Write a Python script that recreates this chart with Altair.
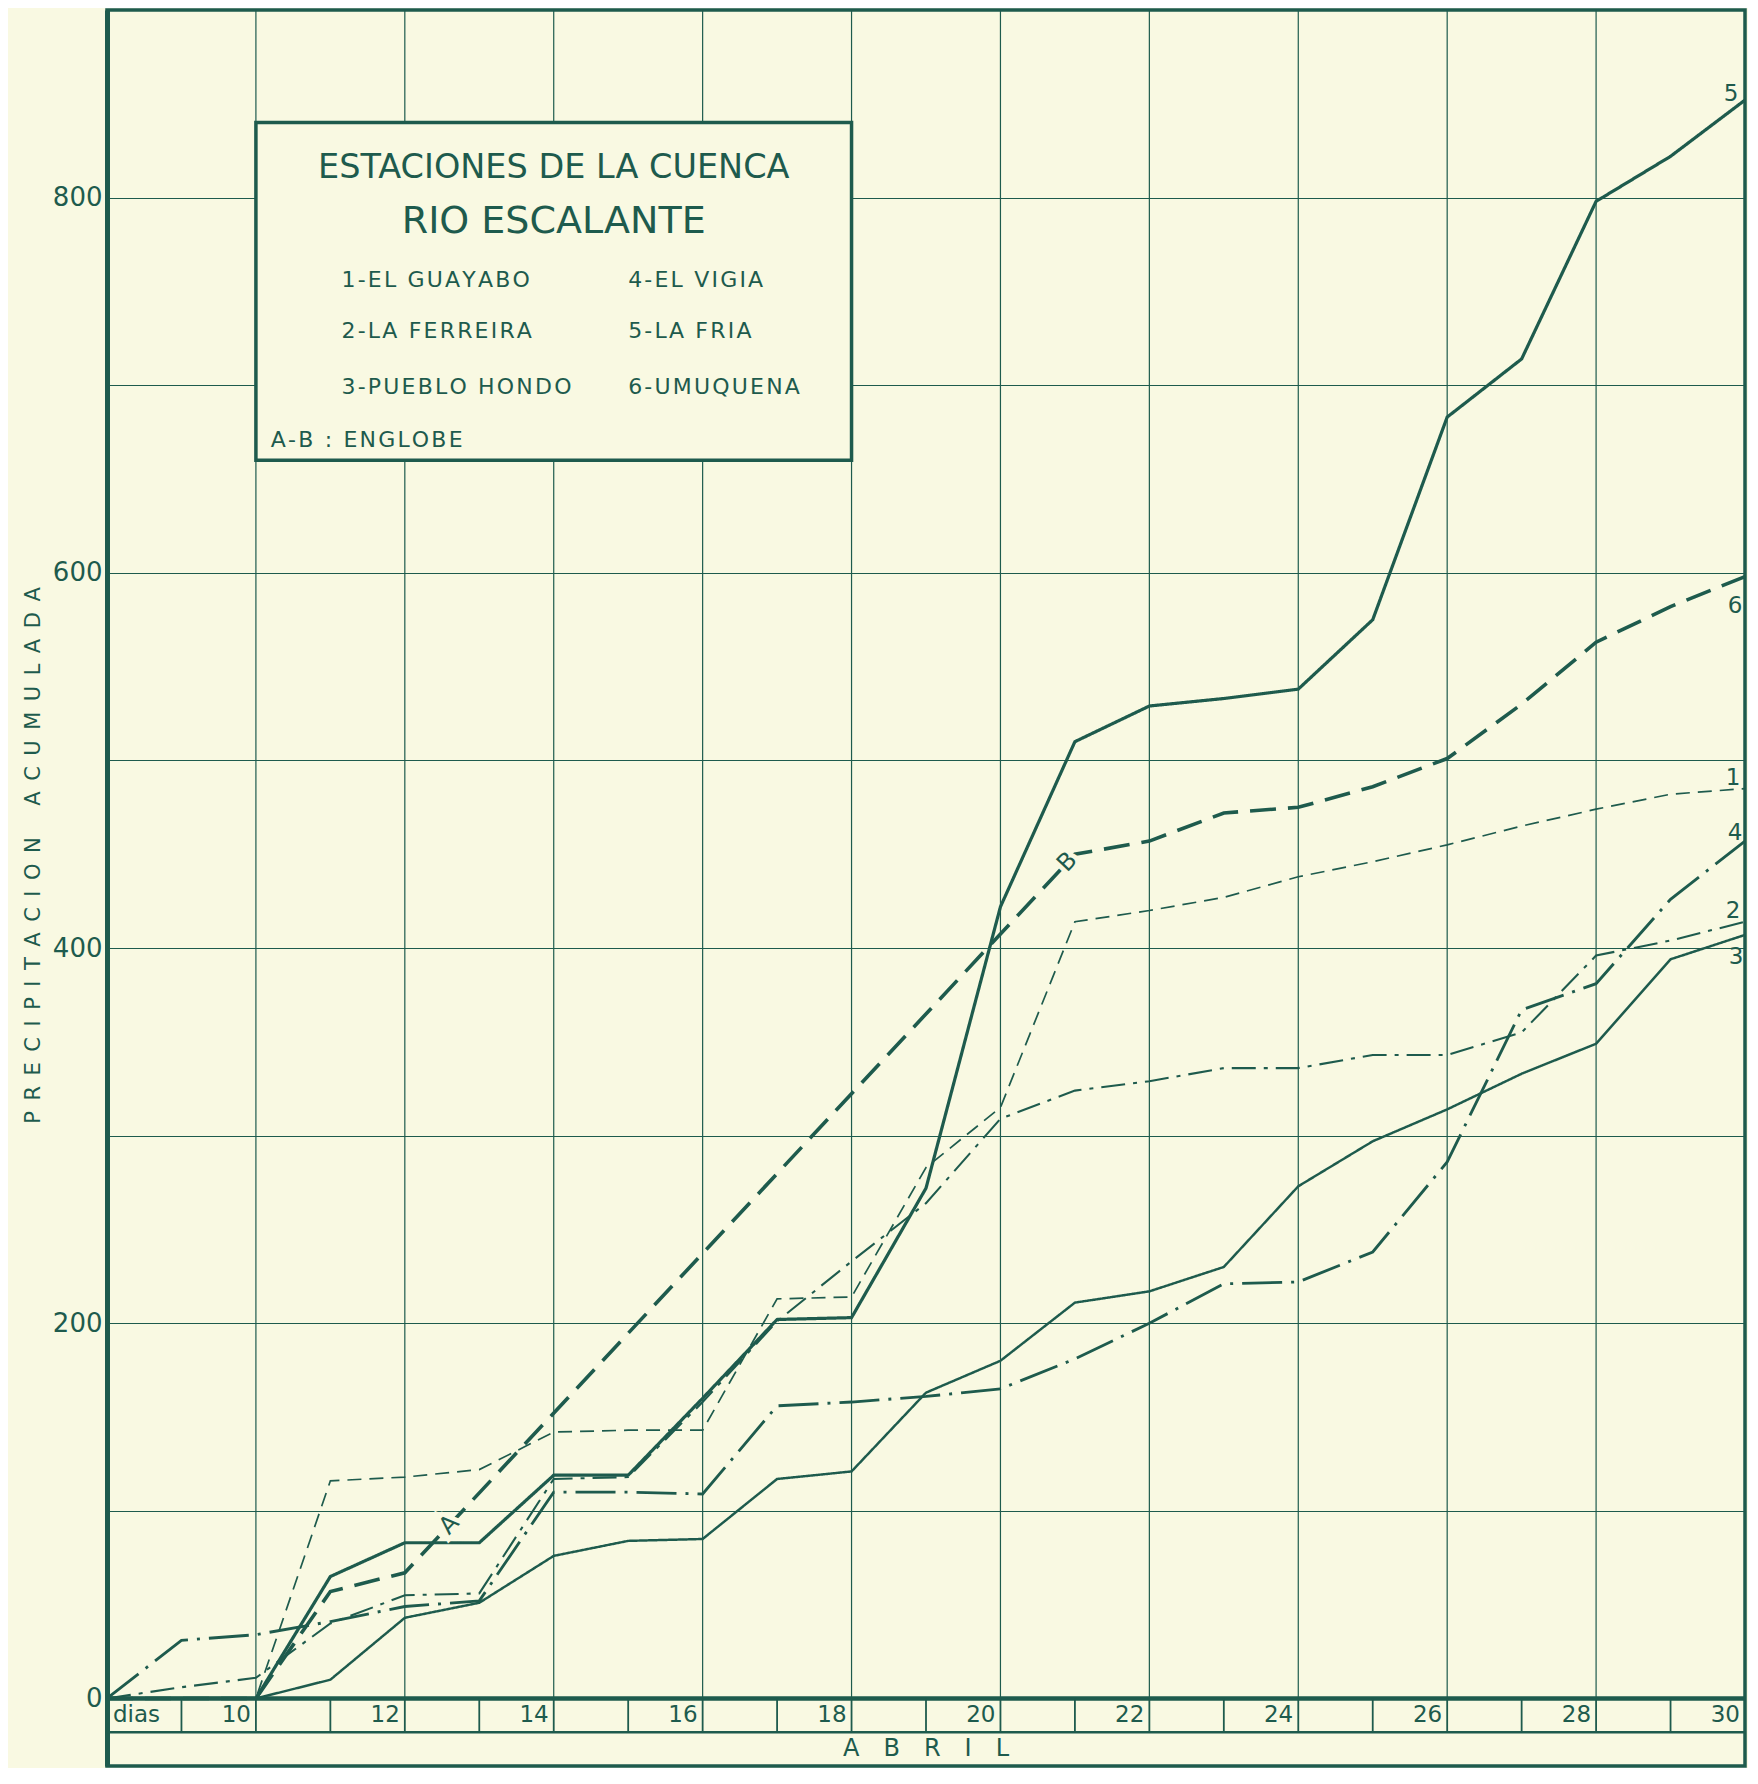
import altair as alt
import pandas as pd

# ---------------- data ----------------
days = list(range(8, 31))  # 8 .. 30 de abril
el_guayabo   = [0, 0, 0, 116, 118, 122, 142, 143, 143, 213, 214, 283, 315, 414, 420, 427, 438, 446, 455, 465, 474, 482, 485]
la_ferreira  = [0, 6, 11, 40, 55, 56, 117, 118, 158, 201, 233, 264, 309, 324, 329, 336, 336, 343, 343, 355, 396, 404, 414]
pueblo_hondo = [0, 0, 0, 10, 43, 51, 76, 84, 85, 117, 121, 163, 180, 211, 217, 230, 273, 297, 314, 333, 349, 394, 407]
el_vigia     = [0, 31, 34, 41, 49, 52, 110, 110, 109, 156, 158, 161, 165, 181, 200, 221, 222, 238, 286, 367, 381, 426, 457]
la_fria      = [0, 0, 0, 65, 83, 83, 119, 119, 160, 202, 203, 272, 422, 510, 529, 533, 538, 575, 683, 714, 798, 822, 852]
# Umuquena: days 12 -> 21 measured as one lumped total (englobe A-B)
days_umuquena = [8, 9, 10, 11, 12, 21, 22, 23, 24, 25, 26, 27, 28, 29, 30]
umuquena      = [0, 0, 0, 57, 67, 450, 457, 472, 475, 486, 501, 530, 563, 582, 598]

station_ids = ["1", "2", "3", "4", "5", "6"]
station_names = ["EL GUAYABO", "LA FERREIRA", "PUEBLO HONDO", "EL VIGIA", "LA FRIA", "UMUQUENA"]

tick_days = list(range(9, 30))
grid_days = list(range(10, 30, 2))
label_days = list(range(10, 31, 2))
y_grid_values = list(range(0, 900, 100))

# ---------------- styles ----------------
INK = "#1e5b4d"
PAPER = "#f9f9e2"
FONT = "DejaVu Sans"
W, H = 1638, 1756
STRIP = 36  # depth of the date strip under the zero line, in axis units
xs = alt.Scale(domain=[8, 30], nice=False, zero=False)
ys = alt.Scale(domain=[-STRIP, 900], nice=False, zero=False)
dash_range = [[14, 8], [24, 8, 4, 8], [1, 0], [40, 9, 3, 9], [1, 0], [26, 12]]
width_range = [1.7, 3.6, 1.7, 1.7, 3.6, 3.6]
end_label_offsets = {"1": (-12, -11), "2": (-12, -11), "3": (-9, 22), "4": (-10, -8), "5": (-14, -6), "6": (-10, 29)}
HAIR = "\u200a"
EN = "\u2002"


def spaced(s):
    return HAIR.join(s)


series = dict(zip(station_ids, [el_guayabo, la_ferreira, pueblo_hondo, el_vigia, la_fria]))
rows = []
for sid, vals in series.items():
    for d, v in zip(days, vals):
        rows.append({"station": sid, "day": d, "value": v})
for d, v in zip(days_umuquena, umuquena):
    rows.append({"station": "6", "day": d, "value": v})
df = pd.DataFrame(rows)

ytitle = EN.join("PRECIPITACION") + EN * 3 + EN.join("ACUMULADA")
yaxis = alt.Axis(
    values=y_grid_values,
    labelExpr="datum.value % 200 == 0 ? datum.label : ''",
    grid=True, gridColor=INK, gridWidth=1.2,
    ticks=False, domain=True, domainColor=INK, domainWidth=5,
    labelFont=FONT, labelFontSize=26, labelColor=INK, labelPadding=5,
    title=ytitle, titleFont=FONT, titleFontSize=21, titleColor=INK, titleFontWeight="normal",
    titleAngle=270, titleX=-74, titleY=845, titleAlign="center", titleBaseline="middle",
)


def X(field=None, datum=None):
    if datum is not None:
        return alt.XDatum(datum, type="quantitative", scale=xs, axis=None)
    return alt.X(field, type="quantitative", scale=xs, axis=None)


def Y(field=None, datum=None):
    if datum is not None:
        return alt.YDatum(datum, type="quantitative", scale=ys, axis=yaxis)
    return alt.Y(field, type="quantitative", scale=ys, axis=yaxis)


empty = pd.DataFrame({"k": [0]})

# vertical grid lines every two days (plot area only)
grid_v = alt.Chart(pd.DataFrame({"day": grid_days})).mark_rule(color=INK, strokeWidth=1.2).encode(
    x=X("day"), y=Y(datum=0), y2=alt.Y2Datum(900)
)

# station lines
lines = alt.Chart(df).mark_line(color=INK).encode(
    x=X("day"),
    y=Y("value"),
    strokeDash=alt.StrokeDash("station:N", scale=alt.Scale(domain=station_ids, range=dash_range), legend=None),
    strokeWidth=alt.StrokeWidth("station:O", scale=alt.Scale(domain=station_ids, range=width_range), legend=None),
    order="day:Q",
)

# A / B marks on the lumped (englobe) segment of Umuquena
d_a, d_b = days_umuquena[4], days_umuquena[5]
v_a, v_b = umuquena[4], umuquena[5]
ab = pd.DataFrame({"t": ["A", "B"], "day": [12.6, 20.9]})
ab["value"] = v_a + (ab["day"] - d_a) * (v_b - v_a) / (d_b - d_a)
ab_mask = alt.Chart(ab).mark_text(font=FONT, fontSize=24, color=PAPER, stroke=PAPER, strokeWidth=9, angle=313).encode(
    x=X("day"), y=Y("value"), text="t:N")
ab_text = alt.Chart(ab).mark_text(font=FONT, fontSize=24, color=INK, angle=313).encode(
    x=X("day"), y=Y("value"), text="t:N")

# end labels of each line
end_layers = []
for sid in station_ids:
    sub = df[df.station == sid]
    last = sub[sub.day == sub.day.max()]
    dx, dy = end_label_offsets[sid]
    end_layers.append(
        alt.Chart(last).mark_text(font=FONT, fontSize=23, color=INK, dx=dx, dy=dy).encode(
            x=X("day"), y=Y("value"), text="station:N")
    )

# legend box
legend_box = alt.Chart(empty).mark_rect(fill=PAPER, stroke=INK, strokeWidth=3.5).encode(
    x=X(datum=10), x2=alt.X2Datum(18), y=Y(datum=660), y2=alt.Y2Datum(840))
legend_titles = [("ESTACIONES DE LA CUENCA", 816, 33.5), ("RIO ESCALANTE", 787, 38)]
title_layers = [
    alt.Chart(pd.DataFrame({"t": [t]})).mark_text(font=FONT, fontSize=size, color=INK).encode(
        x=X(datum=14), y=Y(datum=val), text="t:N")
    for t, val, size in legend_titles
]
entries = pd.DataFrame({
    "t": [spaced(f"{sid}-{name}") for sid, name in zip(station_ids, station_names)],
    "day": [11.15] * 3 + [15.0] * 3,
    "value": [756, 729, 699] * 2,
})
legend_entries = alt.Chart(entries).mark_text(font=FONT, fontSize=22, color=INK, align="left").encode(
    x=X("day"), y=Y("value"), text="t:N")
englobe = alt.Chart(pd.DataFrame({"t": [spaced("A-B : ENGLOBE")]})).mark_text(
    font=FONT, fontSize=22, color=INK, align="left").encode(x=X(datum=10.2), y=Y(datum=671), text="t:N")

# bottom strip: day row and month row
zero_line = alt.Chart(empty).mark_rule(color=INK, strokeWidth=4.5).encode(
    x=X(datum=8), x2=alt.X2Datum(30), y=Y(datum=0))
row_line = alt.Chart(empty).mark_rule(color=INK, strokeWidth=2.5).encode(
    x=X(datum=8), x2=alt.X2Datum(30), y=Y(datum=-STRIP / 2))
dividers = alt.Chart(pd.DataFrame({"day": tick_days})).mark_rule(color=INK, strokeWidth=1.8).encode(
    x=X("day"), y=Y(datum=0), y2=alt.Y2Datum(-STRIP / 2))
day_labels = alt.Chart(pd.DataFrame({"day": label_days, "t": [str(d) for d in label_days]})).mark_text(
    font=FONT, fontSize=23, color=INK, align="right", dx=-5).encode(
    x=X("day"), y=Y(datum=-STRIP / 4), text="t:N")
dias = alt.Chart(pd.DataFrame({"day": [8], "t": ["dias"]})).mark_text(
    font=FONT, fontSize=23, color=INK, align="left", dx=6).encode(
    x=X("day"), y=Y(datum=-STRIP / 4), text="t:N")
abril = alt.Chart(pd.DataFrame({"t": [(EN * 2).join("ABRIL")]})).mark_text(
    font=FONT, fontSize=24, color=INK).encode(x=X(datum=19), y=Y(datum=-STRIP * 3 / 4), text="t:N")

chart = alt.layer(
    grid_v, legend_box, lines, ab_mask, ab_text, *end_layers, *title_layers, legend_entries, englobe,
    zero_line, row_line, dividers, day_labels, dias, abril,
).properties(
    width=W, height=H,
    padding={"left": 99, "top": 2, "right": 3, "bottom": 2},
    autosize=alt.AutoSizeParams(type="none"),
).configure(background=PAPER).configure_view(stroke=INK, strokeWidth=3.5)

chart.save("out.html", embed_options={"renderer": "svg", "actions": False})
